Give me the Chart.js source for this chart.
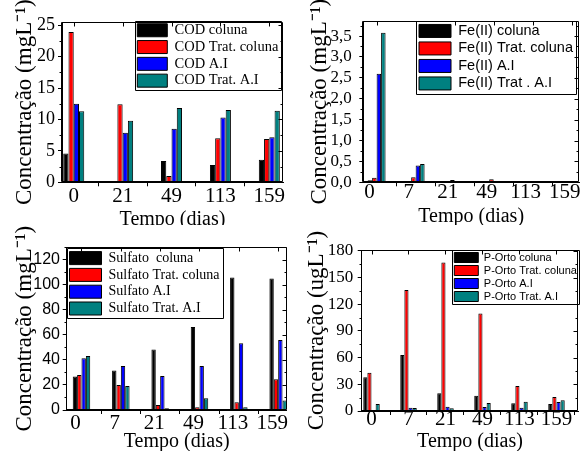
<!DOCTYPE html>
<html><head><meta charset="utf-8">
<script src="https://cdn.jsdelivr.net/npm/chart.js@4/dist/chart.umd.min.js"></script>
<style>
html,body{margin:0;padding:0;background:#fff;overflow:hidden;width:580px;height:451px;position:relative;}
canvas{position:absolute;background:#fff;}
</style></head><body>
<canvas id="c1" width="290" height="250" style="left:0;top:0"></canvas>
<canvas id="c2" width="290" height="250" style="left:290px;top:0"></canvas>
<canvas id="c3" width="290" height="250" style="left:0;top:225px"></canvas>
<canvas id="c4" width="290" height="250" style="left:290px;top:225px"></canvas>
<script>
// ---------- DATA ----------
const codDays = ['0', '21', '49', '113', '159'];
const codColuna      = [4.6, 0, 3.4, 2.75, 3.6];
const codTratColuna  = [23.9, 12.4, 1.0, 7.0, 6.9];
const codAI          = [12.5, 7.9, 8.5, 10.3, 7.15];
const codTratAI      = [11.3, 9.8, 11.8, 11.5, 11.4];
const codNames = ['COD coluna', 'COD Trat. coluna', 'COD A.I', 'COD Trat. A.I'];
const codYTicks = [0, 5, 10, 15, 20, 25];

const feDays = ['0', '7', '21', '49', '113', '159'];
const feColuna     = [0.05, 0.02, 0.01, 0.01, 0.01, 0.01];
const feTratColuna = [0.11, 0.12, 0.055, 0.07, 0.01, 0.01];
const feAI         = [2.6, 0.40, 0.01, 0.015, 0.01, 0.01];
const feTratAI     = [3.58, 0.44, 0.025, 0.03, 0.01, 0.01];
const feNames = ['Fe(II) coluna', 'Fe(II) Trat. coluna', 'Fe(II) A.I', 'Fe(II) Trat . A.I'];
const feYTicks = [0, 0.5, 1.0, 1.5, 2.0, 2.5, 3.0, 3.5];

const sulDays = ['0', '7', '21', '49', '113', '159'];
const sulColuna     = [26.7, 31.5, 48.3, 66.4, 105.9, 105.1];
const sulTratColuna = [28, 20, 4, 2.1, 6.1, 24.5];
const sulAI         = [41.3, 35.2, 27.2, 35.2, 53.3, 56];
const sulTratAI     = [43.2, 19.2, 1.3, 9.3, 2.1, 7.5];
const sulNames = ['Sulfato  coluna', 'Sulfato Trat. coluna', 'Sulfato A.I', 'Sulfato Trat. A.I'];
const sulYTicks = [0, 20, 40, 60, 80, 100, 120];

const poDays = ['0', '7', '21', '49', '113', '159'];
const poColuna     = [37.9, 63, 19.9, 17.2, 8.6, 7.9];
const poTratColuna = [43.1, 136, 167, 109.5, 28.1, 15.7];
const poAI         = [0, 3.7, 4.9, 4.5, 3.7, 10.1];
const poTratAI     = [7.9, 3.4, 3, 9, 10.5, 12];
const poNames = ['P-Orto coluna', 'P-Orto Trat. coluna', 'P-Orto A.I', 'P-Orto Trat. A.I'];
const poYTicks = [0, 30, 60, 90, 120, 150, 180];

const seriesColors = ['#000000', '#ff0000', '#0000ff', '#008080'];
const SERIF = "'Liberation Serif', 'Times New Roman', serif";
const SANS = "'Liberation Sans', Arial, sans-serif";

// ---------- PLUGIN: frame, mirrored ticks, legend placement & border ----------
const framePlugin = {
  id: 'frame',
  afterLayout(chart, args, o) {
    const lg = chart.legend;
    if (!lg || o.legendLeft == null) return;
    const w = lg.width + 20;
    lg.left = o.legendLeft; lg.right = lg.left + w; lg.width = w;
    lg.top = o.legendTop; lg.bottom = lg.top + 300; lg.height = 300;
  },
  afterDraw(chart, args, o) {
    const {ctx, chartArea: a, scales: {x, y}} = chart;
    const L = Math.round(a.left) - 0.5, R = Math.round(a.right) - 0.5;
    const T = Math.round(a.top) + 0.5, B = Math.round(a.bottom) - 0.5;
    ctx.save();
    ctx.strokeStyle = '#000';
    ctx.lineWidth = 1;
    ctx.beginPath();
    ctx.rect(L, T, R - L, B - T);
    const yt = y.ticks.map(t => t.value);
    yt.forEach(v => {
      const py = Math.round(y.getPixelForValue(v)) + 0.5;
      ctx.moveTo(R, py); ctx.lineTo(R - 4, py);
    });
    for (let i = 0; i < yt.length; i++) {
      const mv = i < yt.length - 1 ? (yt[i] + yt[i + 1]) / 2 : yt[i] + (yt[1] - yt[0]) / 2;
      if (mv > y.max) continue;
      const py = Math.round(y.getPixelForValue(mv)) + 0.5;
      ctx.moveTo(L, py); ctx.lineTo(L - 2, py);
      ctx.moveTo(R, py); ctx.lineTo(R - 2, py);
    }
    x.ticks.forEach(t => {
      const px = Math.round(x.getPixelForValue(t.value)) + 0.5;
      ctx.moveTo(px, T); ctx.lineTo(px, T + 4);
    });
    ctx.stroke();
    const lg = chart.legend;
    if (lg && o.legendLeft != null) {
      const lab = o.lab;
      const pad = lab.padding;
      const fs = lab.font.size;
      const ih = Math.max(fs, lab.boxHeight);
      ctx.font = fs + 'px ' + lab.font.family;
      let tw = 0;
      chart.data.datasets.forEach(d => { tw = Math.max(tw, ctx.measureText(d.label).width); });
      const n = chart.data.datasets.length;
      const x0 = Math.round(lg.left) + 0.5, y0 = Math.round(lg.top) + 0.5;
      const x1 = Math.min(Math.round(lg.left + pad + lab.boxWidth + fs / 2 + tw + o.legendExtra), chart.width - 1) + 0.5;
      const y1 = Math.round(lg.top + pad + n * (ih + pad)) + 0.5;
      ctx.beginPath();
      ctx.rect(x0, y0, x1 - x0, y1 - y0);
      ctx.stroke();
    }
    ctx.restore();
  }
};

function makeChart(id, p) {
  const datasets = p.series.map((vals, k) => ({
    label: p.names[k],
    data: vals.map((v, i) => ({x: i, y: v})),
    backgroundColor: seriesColors[k],
    borderColor: '#000',
    borderWidth: 1,
    categoryPercentage: p.catPct,
    barPercentage: 1
  }));
  const lab = {font: p.legendFont, boxWidth: p.boxW, boxHeight: p.boxH, padding: p.legendPad, color: '#000'};
  return new Chart(document.getElementById(id), {
    type: 'bar',
    data: {datasets},
    options: {
      responsive: false,
      animation: false,
      devicePixelRatio: 1,
      layout: {padding: p.pad},
      plugins: {
        legend: {position: 'chartArea', align: 'start', labels: lab},
        tooltip: {enabled: false},
        frame: {legendLeft: p.legendLeft, legendTop: p.legendTop, legendExtra: p.legendExtra, lab: lab}
      },
      scales: {
        x: {
          type: 'linear', min: p.xMin, max: p.xMax, offset: false,
          afterFit: s => { s.height = p.xH; s.paddingLeft = 0; s.paddingRight = 0; s.paddingTop = 0; s.paddingBottom = 0; },
          afterBuildTicks: s => { s.ticks = p.labels.map((_, i) => ({value: i})); },
          ticks: {
            callback: v => p.labels[v], font: p.xTickFont, color: '#000',
            padding: p.xTickPad, labelOffset: p.labelOffset, maxRotation: 0, minRotation: 0, autoSkip: false
          },
          grid: {display: true, drawOnChartArea: false, drawTicks: true, tickLength: 4, color: '#000'},
          border: {display: true, color: '#000'},
          title: {display: true, text: 'Tempo (dias)', color: '#000',
                  font: {family: SERIF, size: 20, lineHeight: 1.2}, padding: {top: 0, bottom: p.xTitlePad}}
        },
        y: {
          min: 0, max: p.yMax,
          afterFit: s => { s.width = p.yW; s.paddingLeft = 0; s.paddingRight = 0; s.paddingTop = 0; s.paddingBottom = 0; },
          afterBuildTicks: s => { s.ticks = p.yTicks.map(v => ({value: v})); },
          ticks: {callback: p.yFmt, font: p.yTickFont, color: '#000', padding: p.yTickPad, autoSkip: false},
          grid: {display: true, drawOnChartArea: false, drawTicks: true, tickLength: 4, color: '#000'},
          border: {display: true, color: '#000'},
          title: {display: true, text: p.yTitle, color: '#000',
                  font: {family: SERIF, size: 23, lineHeight: 1.2}, padding: {top: p.yTitlePad, bottom: 0}}
        }
      }
    },
    plugins: [framePlugin]
  });
}

const intFmt = v => String(v);

makeChart('c1', {
  labels: codDays, names: codNames,
  series: [codColuna, codTratColuna, codAI, codTratAI],
  pad: {left: 0, top: 22, right: 7, bottom: 0}, yW: 62, xH: 67.7,
  yMax: 25.5, yTicks: codYTicks, yFmt: intFmt,
  yTickFont: {family: SERIF, size: 18}, yTickPad: 3, yTitlePad: 11.3,
  yTitle: 'Concentração (mgL⁻¹)',
  xMin: -0.24, xMax: 4.28, catPct: 0.43,
  xTickFont: {family: SERIF, size: 21, lineHeight: 1}, xTickPad: 0, labelOffset: 0, xTitlePad: 18.5,
  legendFont: {family: SERIF, size: 14.5}, boxW: 30, boxH: 13, legendPad: 2.3,
  legendLeft: 135, legendTop: 20.7, legendExtra: 3
});

makeChart('c2', {
  labels: feDays, names: feNames,
  series: [feColuna, feTratColuna, feAI, feTratAI],
  pad: {left: 0, top: 21, right: 1, bottom: 0}, yW: 73.3, xH: 67.7,
  yMax: 3.86, yTicks: feYTicks, yFmt: v => v.toFixed(1).replace('.', ','),
  yTickFont: {family: SERIF, size: 17}, yTickPad: 7.6, yTitlePad: 16.6,
  yTitle: 'Concentração (mgL⁻¹)',
  xMin: -0.341, xMax: 5.186, catPct: 0.46,
  xTickFont: {family: SERIF, size: 21, lineHeight: 1}, xTickPad: -4, labelOffset: -7, xTitlePad: 21.5,
  legendFont: {family: SANS, size: 14.5}, boxW: 32, boxH: 13, legendPad: 3,
  legendLeft: 126, legendTop: 20.7, legendExtra: 3
});

makeChart('c3', {
  labels: sulDays, names: sulNames,
  series: [sulColuna, sulTratColuna, sulAI, sulTratAI],
  pad: {left: 0, top: 22.3, right: 3.3, bottom: 0}, yW: 66.7, xH: 65,
  yMax: 130, yTicks: sulYTicks, yFmt: intFmt,
  yTickFont: {family: SANS, size: 16}, yTickPad: 2.7, yTitlePad: 11.6,
  yTitle: 'Concentração (mgL⁻¹)',
  xMin: -0.376, xMax: 5.217, catPct: 0.445,
  xTickFont: {family: SERIF, size: 21, lineHeight: 1}, xTickPad: -1.2, labelOffset: -6, xTitlePad: 21.5,
  legendFont: {family: SERIF, size: 14}, boxW: 32, boxH: 13, legendPad: 2.8,
  legendLeft: 66.7, legendTop: 23.3, legendExtra: 3
});

makeChart('c4', {
  labels: poDays, names: poNames,
  series: [poColuna, poTratColuna, poAI, poTratAI],
  pad: {left: 0, top: 25, right: 1.7, bottom: 0}, yW: 71.7, xH: 64,
  yMax: 181, yTicks: poYTicks, yFmt: intFmt,
  yTickFont: {family: SERIF, size: 17}, yTickPad: 4.4, yTitlePad: 13.3,
  yTitle: 'Concentração (ugL⁻¹)',
  xMin: -0.265, xMax: 5.59, catPct: 0.446,
  xTickFont: {family: SERIF, size: 21, lineHeight: 1}, xTickPad: -6, labelOffset: 0, xTitlePad: 21.5,
  legendFont: {family: SANS, size: 11}, boxW: 24, boxH: 10, legendPad: 2,
  legendLeft: 162.3, legendTop: 25, legendExtra: 3
});
</script>
</body></html>
